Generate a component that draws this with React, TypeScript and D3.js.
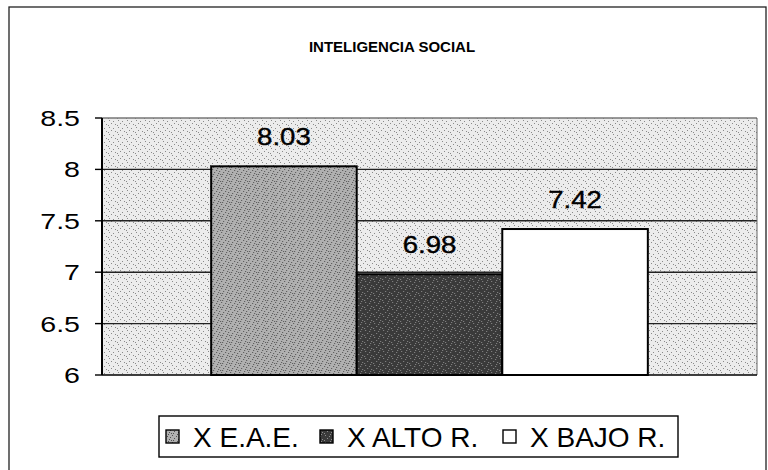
import React, { useEffect, useRef } from 'react';
import * as d3 from 'd3';

const title = 'INTELIGENCIA SOCIAL';
const categories = ['INTELIGENCIA SOCIAL'];
const series = ['X E.A.E.', 'X ALTO R.', 'X BAJO R.'];
const values = [8.03, 6.98, 7.42];
const labels = ['8.03', '6.98', '7.42'];
const yTicks = [6, 6.5, 7, 7.5, 8, 8.5];
const fills = ['url(#texMid)', 'url(#texDark)', '#ffffff'];

const W = 768;
const H = 470;

const App: React.FC = () => {
  const svgRef = useRef<SVGSVGElement | null>(null);

  useEffect(() => {
    if (!svgRef.current) return;
    const svg = d3.select(svgRef.current);
    svg.selectAll('*').remove();

    const left = 102, right = 757, top = 118, bottom = 375;

    // stipple patterns (scanned halftone look)
    const defs = svg.append('defs');
    const makePattern = (id: string, base: string, dot: string, n: number) => {
      const p = defs.append('pattern')
        .attr('id', id)
        .attr('width', 9)
        .attr('height', 7)
        .attr('patternUnits', 'userSpaceOnUse');
      p.append('rect').attr('width', 9).attr('height', 7).attr('fill', base);
      const pts = [[1, 1], [5, 2], [3, 4], [7, 5], [0, 6], [6, 0], [2, 6], [8, 3]];
      pts.slice(0, n).forEach(([x, y]) => {
        p.append('rect').attr('x', x).attr('y', y).attr('width', 1).attr('height', 1).attr('fill', dot);
      });
    };
    makePattern('bgStipple', '#ececec', '#8a8a8a', 5);
    makePattern('texMid', '#b0b0b0', '#505050', 8);
    makePattern('texDark', '#3a3a3a', '#8c8c8c', 6);

    svg.append('rect')
      .attr('width', W).attr('height', H).attr('fill', '#fff');

    // chart frame
    svg.append('rect')
      .attr('x', 9).attr('y', 7)
      .attr('width', 757).attr('height', 470)
      .attr('fill', 'none')
      .attr('stroke', '#222')
      .attr('stroke-width', 1.3);

    svg.append('text')
      .attr('x', 392).attr('y', 52)
      .attr('text-anchor', 'middle')
      .attr('font-family', 'Arial, "Liberation Sans", sans-serif')
      .attr('font-weight', 'bold')
      .attr('font-size', 15)
      .attr('fill', '#000')
      .text(title);

    const y = d3.scaleLinear().domain([6, 8.5]).range([bottom, top]);
    const x0 = d3.scaleBand().domain(categories).range([left, right]).paddingOuter(0.25).paddingInner(0);
    const x1 = d3.scaleBand().domain(series).range([0, x0.bandwidth()]).padding(0);

    // plot area
    svg.append('rect')
      .attr('x', left).attr('y', top)
      .attr('width', right - left).attr('height', bottom - top)
      .attr('fill', 'url(#bgStipple)');

    // gridlines
    svg.append('g')
      .selectAll('line')
      .data(yTicks.filter((t) => t > 6))
      .join('line')
      .attr('x1', left).attr('x2', right)
      .attr('y1', (d) => y(d)).attr('y2', (d) => y(d))
      .attr('stroke', (d) => (d === 8.5 ? '#777' : '#222'))
      .attr('stroke-width', 1.4);

    // right border of plot area
    svg.append('line')
      .attr('x1', right).attr('x2', right).attr('y1', top).attr('y2', bottom)
      .attr('stroke', '#666').attr('stroke-width', 1);

    // bars
    const g = svg.append('g').attr('transform', `translate(${x0(categories[0])},0)`);
    g.selectAll('rect')
      .data(values)
      .join('rect')
      .attr('x', (_, i) => x1(series[i]) as number)
      .attr('y', (d) => y(d))
      .attr('width', x1.bandwidth())
      .attr('height', (d) => y(6) - y(d))
      .attr('fill', (_, i) => fills[i])
      .attr('stroke', '#000')
      .attr('stroke-width', 2);

    g.selectAll('text')
      .data(values)
      .join('text')
      .attr('transform', (d, i) => `translate(${(x1(series[i]) as number) + x1.bandwidth() / 2},${y(d) - 21}) scale(1.15,1)`)
      .attr('text-anchor', 'middle')
      .attr('font-family', 'Arial, "Liberation Sans", sans-serif')
      .attr('font-size', 24)
      .attr('fill', '#000')
      .attr('stroke', '#000')
      .attr('stroke-width', 0.4)
      .text((_, i) => labels[i]);

    // y axis
    const axis = svg.append('g');
    axis.append('line')
      .attr('x1', left).attr('x2', left).attr('y1', top).attr('y2', bottom)
      .attr('stroke', '#000').attr('stroke-width', 2);
    axis.append('line')
      .attr('x1', left).attr('x2', right).attr('y1', bottom).attr('y2', bottom)
      .attr('stroke', '#000').attr('stroke-width', 1.6);
    axis.selectAll('line.tick')
      .data(yTicks)
      .join('line')
      .attr('class', 'tick')
      .attr('x1', 95).attr('x2', left)
      .attr('y1', (d) => y(d)).attr('y2', (d) => y(d))
      .attr('stroke', '#000').attr('stroke-width', 1.4);
    axis.selectAll('text')
      .data(yTicks)
      .join('text')
      .attr('transform', (d) => `translate(80,${y(d) + 8}) scale(1.3,1)`)
      .attr('text-anchor', 'end')
      .attr('font-family', 'Arial, "Liberation Sans", sans-serif')
      .attr('font-size', 22)
      .attr('fill', '#000')
      .text((d) => String(d));

    // legend
    const lg = svg.append('g');
    lg.append('rect')
      .attr('x', 159).attr('y', 416)
      .attr('width', 519).attr('height', 41)
      .attr('fill', '#fff')
      .attr('stroke', '#000')
      .attr('stroke-width', 1.4);
    const legendX = [166, 320, 503];
    series.forEach((s, i) => {
      lg.append('rect')
        .attr('x', legendX[i]).attr('y', 430)
        .attr('width', 13).attr('height', 13)
        .attr('fill', fills[i])
        .attr('stroke', '#000')
        .attr('stroke-width', 1.4);
      lg.append('text')
        .attr('x', legendX[i] + 27).attr('y', 447)
        .attr('font-family', 'Arial, "Liberation Sans", sans-serif')
        .attr('font-size', 28)
        .attr('fill', '#000')
        .text(s);
    });
  }, []);

  return (
    <svg
      ref={svgRef}
      width={W}
      height={H}
      style={{ position: 'absolute', left: 0, top: 0, display: 'block' }}
    ></svg>
  );
};

export default App;
